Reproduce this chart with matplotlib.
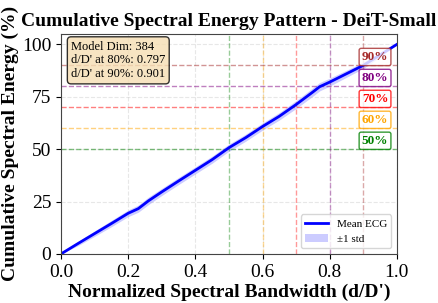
import matplotlib
matplotlib.use("Agg")
import matplotlib.pyplot as plt
import numpy as np

plt.rcParams['font.family'] = ['Liberation Serif', 'DejaVu Serif']

bandwidth = [0.0, 0.05, 0.10, 0.15, 0.20, 0.23, 0.26, 0.30, 0.35, 0.40, 0.45, 0.50,
             0.55, 0.60, 0.65, 0.70, 0.75, 0.77, 0.80, 0.85, 0.90, 0.95, 1.0]
mean_ecg = [0.0, 4.9, 9.7, 14.5, 19.4, 21.6, 25.3, 29.6, 34.8, 39.9, 45.0, 50.7,
            55.5, 60.8, 65.7, 71.3, 77.3, 79.8, 82.0, 86.0, 90.0, 95.0, 100.0]
std_ecg = [0.0, 1.0, 1.3, 1.5, 1.6, 1.7, 1.8, 1.7, 1.7, 1.7, 1.7, 1.7,
           1.7, 1.7, 1.8, 1.9, 2.0, 2.0, 1.9, 1.7, 1.5, 1.0, 0.0]
thresholds = [50, 60, 70, 80, 90]
threshold_x = [0.5, 0.6, 0.7, 0.8, 0.9]
threshold_colors = ['green', 'orange', 'red', 'purple', 'brown']
threshold_labels = ['50%', '60%', '70%', '80%', '90%']
info_text = "Model Dim: 384\nd/D' at 80%: 0.797\nd/D' at 90%: 0.901"

fig, ax = plt.subplots(figsize=(4.39, 3.03), dpi=100)
fig.subplots_adjust(left=0.139, right=0.904, top=0.888, bottom=0.162)

x = np.array(bandwidth)
y = np.array(mean_ecg)
s = np.array(std_ecg)

for t, tx, c, lab in zip(thresholds, threshold_x, threshold_colors, threshold_labels):
    ax.axhline(t, color=c, linestyle='--', alpha=0.5, linewidth=1)
    ax.axvline(tx, color=c, linestyle='--', alpha=0.4, linewidth=1)
    ax.text(0.935, t + 4, lab, color=c, fontsize=9.5, fontweight='bold',
            ha='center', va='center',
            bbox=dict(boxstyle='round,pad=0.2,rounding_size=0.15', facecolor='white', edgecolor=c, alpha=0.8))

ax.fill_between(x, y - s, y + s, color='blue', alpha=0.2, linewidth=0, label='±1 std')
ax.plot(x, y, color='blue', linewidth=2, label='Mean ECG')

ax.set_xlim(0, 1)
ax.set_ylim(0, 105)
ax.set_xticks([0, 0.2, 0.4, 0.6, 0.8, 1.0])
ax.set_yticks([0, 25, 50, 75, 100])
ax.tick_params(labelsize=14)
ax.grid(True, linestyle='--', alpha=0.3)
ax.set_xlabel("Normalized Spectral Bandwidth (d/D')", fontsize=14, fontweight='bold', labelpad=2)
ax.set_ylabel("Cumulative Spectral Energy (%)", fontsize=14, fontweight='bold', labelpad=2)
ax.set_title("Cumulative Spectral Energy Pattern - DeiT-Small", fontsize=14, fontweight='bold')

ax.text(0.03, 0.97, info_text, transform=ax.transAxes, fontsize=9, va='top', ha='left',
        bbox=dict(boxstyle='round,pad=0.3', facecolor='wheat', alpha=0.8))

handles, labels = ax.get_legend_handles_labels()
ax.legend([handles[1], handles[0]], [labels[1], labels[0]], loc='lower right', fontsize=8)

for sp in ax.spines.values():
    sp.set_color('#444444')

fig.savefig("out.png", dpi=100)
